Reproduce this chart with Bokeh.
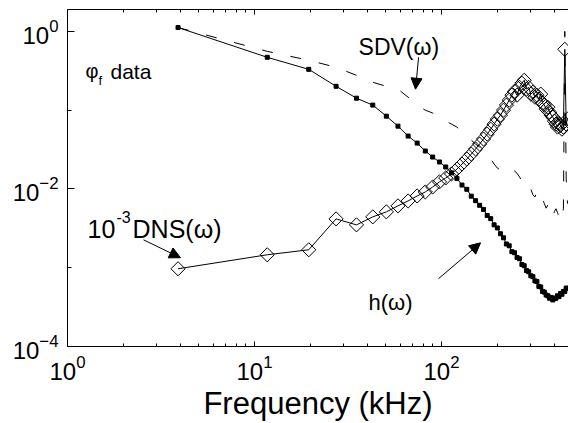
from bokeh.plotting import figure
from bokeh.models import (LogAxis, FixedTicker, LogTicker, Label, Arrow, NormalHead, Range1d,
                          CustomJSTickFormatter, LogTickFormatter)
from bokeh.embed import file_html
from bokeh.resources import INLINE

# ---------------- data ----------------
freq_khz = [3.9, 11.7, 19.5, 27.3, 35.1, 42.9, 50.7, 58.5, 66.3, 74.1, 81.9, 89.7, 97.5,
            105.3, 113.1, 120.9, 128.7, 136.5, 144.3, 152.1, 159.9, 167.7, 175.5,
            183.3, 191.1, 198.9, 206.7, 214.5, 222.3, 230.1, 237.9, 245.7, 253.5,
            261.3, 269.1, 276.9, 284.7, 292.5, 300.3, 308.1, 315.9, 323.7, 331.5,
            339.3, 347.1, 354.9, 362.7, 370.5, 378.3, 386.1, 393.9, 401.7, 409.5,
            417.3, 425.1, 432.9, 440.7, 448.5, 456.3, 464.1, 471.9]

h_omega = [1.12, 0.469, 0.330, 0.201, 0.142, 0.116, 0.084, 0.0627, 0.0469, 0.0382, 0.0303, 0.0254, 0.0220,
           0.0190, 0.0160, 0.0136, 0.0112, 0.0099, 0.0081, 0.0071, 0.0062, 0.0055, 0.0046,
           0.0042, 0.0035, 0.0032, 0.0027, 0.0024, 0.0020, 0.00190, 0.00160, 0.00155, 0.00135,
           0.00130, 0.00110, 0.00106, 0.00092, 0.00089, 0.00079, 0.00077, 0.00068, 0.00067, 0.00058,
           0.00057, 0.00050, 0.00049, 0.00045, 0.00044, 0.00041, 0.00042, 0.00039, 0.00041, 0.00041,
           0.00044, 0.00043, 0.00047, 0.00046, 0.00050, 0.00050, 0.00055, 0.00055]

sdv_omega = [1.12, 0.558, 0.43, 0.35, 0.277, 0.226, 0.201, 0.185, 0.146, 0.116, 0.100, 0.092, 0.0815,
             0.0726, 0.0665, 0.061, 0.0527, 0.0469, 0.0417, 0.0371, 0.034, 0.0303, 0.0269,
             0.024, 0.0207, 0.0184, 0.0174, 0.0179, 0.0169, 0.0155, 0.0158, 0.0169, 0.0158,
             0.0142, 0.0126, 0.0112, 0.0106, 0.0112, 0.0100, 0.0084, 0.0079, 0.0094, 0.0097,
             0.0084, 0.0075, 0.0065, 0.0057, 0.0063, 0.0059, 0.0051, 0.0044, 0.0052, 0.0056,
             0.0050, 0.0044, 0.0039, 0.0044, 0.0056, 1.0, 0.0134, 0.0065]

dns_scaled = [0.00097, 0.00146, 0.00169, 0.00417, 0.0035, 0.00442, 0.00512, 0.0061, 0.00705, 0.00815, 0.00916, 0.0106, 0.0123,
              0.0138, 0.0155, 0.0179, 0.0207, 0.024, 0.0277, 0.0321, 0.0371, 0.043, 0.0497,
              0.0574, 0.0665, 0.0769, 0.0865, 0.100, 0.116, 0.134, 0.155, 0.174, 0.155,
              0.195, 0.22, 0.24, 0.185, 0.195, 0.16, 0.169, 0.146, 0.155, 0.138,
              0.16, 0.123, 0.116, 0.103, 0.109, 0.0944, 0.0865, 0.0815, 0.0726, 0.0665,
              0.061, 0.068, 0.064, 0.0574, 0.061, 0.592, 0.0665, 0.077]

x_major = [1, 10, 100]
x_minor = [2, 3, 4, 5, 6, 7, 8, 9, 20, 30, 40, 50, 60, 70, 80, 90, 200, 300, 400]
y_major = [1e-4, 1e-2, 1]
y_minor = [1e-3, 1e-1]

FONT = "Liberation Sans"
X0, X1 = 1, 477.6
Y0, Y1 = 1e-4, 1.897

p = figure(width=568, height=423, x_axis_type="log", y_axis_type="log",
           x_range=Range1d(X0, X1), y_range=Range1d(Y0, Y1),
           output_backend="svg", toolbar_location=None,
           min_border_left=67, min_border_right=0, min_border_top=9, min_border_bottom=76)
p.outline_line_color = None
p.grid.visible = False
p.background_fill_color = "white"
p.border_fill_color = "white"

xa = p.xaxis[0]
xa.ticker = FixedTicker(ticks=x_major, minor_ticks=x_minor)
xa.formatter = LogTickFormatter(ticker=LogTicker())
xa.major_tick_in = 5
xa.major_tick_out = 0
xa.minor_tick_in = 3
xa.minor_tick_out = 0
xa.major_label_text_font = FONT
xa.major_label_text_font_size = "24px"
xa.major_label_text_color = "black"
xa.major_label_standoff = 8
xa.axis_label = "Frequency (kHz)"
xa.axis_label_text_font = FONT
xa.axis_label_text_font_size = "31px"
xa.axis_label_text_font_style = "normal"
xa.axis_label_text_color = "black"
xa.axis_label_standoff = 3
xa.axis_line_color = "black"

ya = p.yaxis[0]
ya.ticker = FixedTicker(ticks=y_major, minor_ticks=y_minor)
ya.formatter = LogTickFormatter(ticker=LogTicker())
ya.major_tick_in = 7
ya.major_tick_out = 0
ya.minor_tick_in = 4
ya.minor_tick_out = 0
ya.major_label_text_font = FONT
ya.major_label_text_font_size = "24px"
ya.major_label_text_color = "black"
ya.major_label_standoff = 9
ya.axis_line_color = "black"

top = LogAxis(ticker=FixedTicker(ticks=x_major, minor_ticks=x_minor),
              formatter=CustomJSTickFormatter(code="return '';"),
              major_label_standoff=0,
              major_tick_in=5, major_tick_out=0, minor_tick_in=3, minor_tick_out=0)
p.add_layout(top, "above")

# ---------------- series ----------------
p.line(freq_khz, sdv_omega, line_color="black", line_width=1, line_dash="11 18")
p.line(freq_khz, h_omega, line_color="black", line_width=1)
p.scatter(freq_khz, h_omega, marker="square", size=4, fill_color="black", line_color="black")
p.line(freq_khz, dns_scaled, line_color="black", line_width=1)
p.scatter(freq_khz, dns_scaled, marker="square", angle=0.785398, size=10,
          fill_color=None, line_color="black", line_width=1)

# ---------------- annotations ----------------
def lab(x, y, t, size):
    p.add_layout(Label(x=x, y=y, text=t, text_font=FONT, text_font_size=size,
                       text_color="black", text_baseline="alphabetic", text_align="left"))

lab(1.25, 0.312, "φ", "20px")
lab(1.465, 0.24, "f", "13px")
lab(1.698, 0.312, "data", "21px")
lab(36.0, 0.627, "SDV(ω)", "23px")
lab(1.28, 0.00312, "10", "25px")
lab(1.828, 0.00442, "-3", "16px")
lab(2.227, 0.00312, "DNS(ω)", "25px")
lab(40.7, 0.000360, "h(ω)", "22px")

for xs, ys, xe, ye in [(75.4, 0.469, 72.6, 0.1845),
                       (2.55, 0.00226, 4.02, 0.00134),
                       (96.4, 0.000726, 161.7, 0.00207)]:
    p.add_layout(Arrow(end=NormalHead(size=11, fill_color="black", line_color="black"),
                       x_start=xs, y_start=ys, x_end=xe, y_end=ye,
                       line_color="black", line_width=1))

open("out.html", "w").write(file_html(p, INLINE))
